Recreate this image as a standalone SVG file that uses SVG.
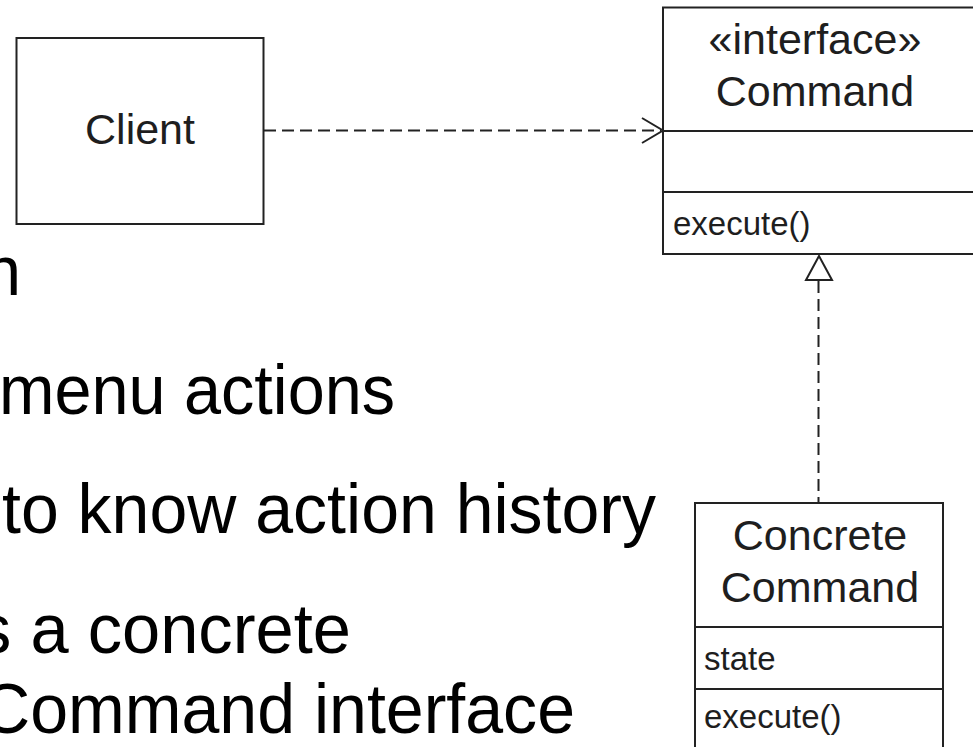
<svg xmlns="http://www.w3.org/2000/svg" width="973" height="747" viewBox="0 0 973 747">
  <style>
    .box { fill: #ffffff; stroke: #222222; stroke-width: 2; }
    .sep { stroke: #222222; stroke-width: 2; fill: none; }
    .uml { font-family: "Liberation Sans", Arial, Helvetica, sans-serif; fill: #1e1e1e; }
    .name { font-size: 43px; text-anchor: middle; }
    .member { font-size: 33px; }
    .dash { stroke: #222222; stroke-width: 2; stroke-dasharray: 12 6; fill: none; }
    .head { stroke: #222222; stroke-width: 2; fill: none; stroke-linejoin: miter; }
    .tri { stroke: #222222; stroke-width: 2; fill: #ffffff; stroke-linejoin: miter; }
    .bullet { font-family: "Liberation Sans", Arial, Helvetica, sans-serif; font-size: 70px; fill: #000000; }
  </style>

  <rect width="973" height="747" fill="#ffffff"/>

  <!-- slide text lines (left part) -->
  <g id="bullets">
    <text class="bullet" x="-16" y="295" textLength="37" lengthAdjust="spacingAndGlyphs">n</text>
    <text class="bullet" x="-1" y="414" textLength="396" lengthAdjust="spacingAndGlyphs">menu actions</text>
    <text class="bullet" x="2" y="533" textLength="654" lengthAdjust="spacingAndGlyphs">to know action history</text>
    <text class="bullet" x="-23" y="653" textLength="374" lengthAdjust="spacingAndGlyphs">s a concrete</text>
    <text class="bullet" x="-19" y="733" textLength="594" lengthAdjust="spacingAndGlyphs">Command interface</text>
  </g>

  <!-- connectors -->
  <g id="connectors">
    <!-- Client depends on Command -->
    <line class="dash" x1="264" y1="130.5" x2="661" y2="130.5"/>
    <polyline class="head" points="642,118 663,130.5 642,143"/>
    <!-- ConcreteCommand realizes Command -->
    <line class="dash" x1="818.5" y1="281" x2="818.5" y2="503"/>
    <polygon class="tri" points="819,256 806,280 832,280"/>
  </g>

  <!-- Client -->
  <g id="client">
    <rect class="box" x="16.5" y="38" width="247" height="186"/>
    <text class="uml name" x="140" y="144">Client</text>
  </g>

  <!-- Command interface -->
  <g id="command">
    <rect class="box" x="663" y="7.5" width="312" height="246.5"/>
    <line class="sep" x1="663" y1="131" x2="975" y2="131"/>
    <line class="sep" x1="663" y1="192" x2="975" y2="192"/>
    <text class="uml name" x="815" y="54">«interface»</text>
    <text class="uml name" x="815" y="106">Command</text>
    <text class="uml member" x="673" y="235">execute()</text>
  </g>

  <!-- Concrete Command -->
  <g id="concrete-command">
    <rect class="box" x="695" y="503" width="248" height="260"/>
    <line class="sep" x1="695" y1="627" x2="943" y2="627"/>
    <line class="sep" x1="695" y1="689" x2="943" y2="689"/>
    <text class="uml name" x="820" y="550">Concrete</text>
    <text class="uml name" x="820" y="602">Command</text>
    <text class="uml member" x="704" y="670">state</text>
    <text class="uml member" x="704" y="728">execute()</text>
  </g>
</svg>
